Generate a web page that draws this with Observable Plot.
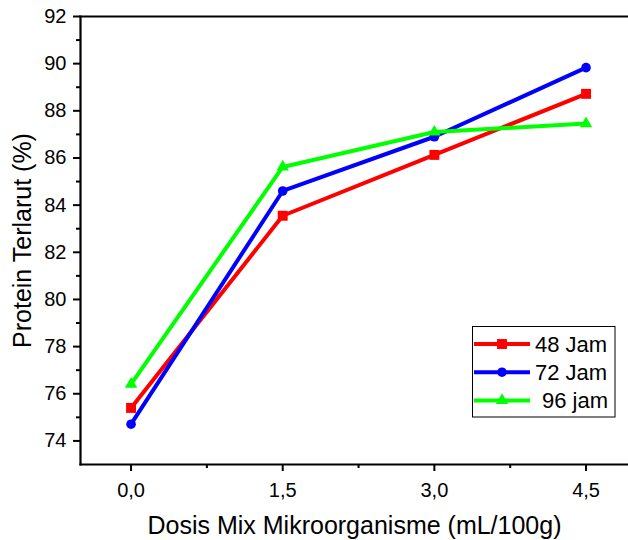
<!DOCTYPE html>
<html>
<head>
<meta charset="utf-8">
<script src="https://cdn.jsdelivr.net/npm/d3@7"></script>
<script src="https://cdn.jsdelivr.net/npm/@observablehq/plot@0.6"></script>
<style>
  html, body { margin: 0; padding: 0; background: #fff; }
  #wrap { position: relative; width: 628px; height: 540px; font-family: "Liberation Sans", Arial, sans-serif; }
  #legend { position: absolute; left: 472px; top: 326px; }
</style>
</head>
<body>
<div id="wrap"></div>
<script>
// ---- data ----
const doses = [0, 1.5, 3.0, 4.5];
const jam48 = [75.40, 83.55, 86.13, 88.72];
const jam72 = [74.71, 84.60, 86.90, 89.83];
const jam96 = [76.41, 85.62, 87.10, 87.46];
const seriesNames = ["48 Jam", "72 Jam", "96 jam"];
const seriesColors = ["#ff0000", "#0000ff", "#00ff00"];
const seriesSymbols = ["square", "circle", "triangle"];
const yMajorTicks = [74, 76, 78, 80, 82, 84, 86, 88, 90, 92];
const yMinorTicks = [75, 77, 79, 81, 83, 85, 87, 89, 91];
const xMajorTicks = [0, 1.5, 3.0, 4.5];
const xMinorTicks = [0.75, 2.25, 3.75];
const xTitle = "Dosis Mix Mikroorganisme (mL/100g)";
const yTitle = "Protein Terlarut (%)";

const seriesValues = [jam48, jam72, jam96];
const rows = [];
seriesValues.forEach((vals, i) => {
  vals.forEach((v, j) => rows.push({series: seriesNames[i], dose: doses[j], value: v}));
});

const symbolR = {square: 5.6, circle: 4.8, triangle: 4.6};

const plot = Plot.plot({
  width: 628,
  height: 540,
  marginLeft: 80,
  marginRight: 0,
  marginTop: 16,
  marginBottom: 76,
  style: {fontFamily: '"Liberation Sans", Arial, sans-serif', background: "white", color: "black", overflow: "visible"},
  x: {domain: [-0.5, 4.92]},
  y: {domain: [73, 92]},
  color: {domain: seriesNames, range: seriesColors},
  symbol: {domain: seriesNames, range: seriesSymbols},
  marks: [
    Plot.axisY({ticks: yMajorTicks, tickSize: 7, tickPadding: 7, strokeWidth: 2, fontSize: 20, tickFormat: d => String(d), label: null}),
    Plot.axisY({ticks: yMinorTicks, tickSize: 4, strokeWidth: 2, tickFormat: () => "", label: null}),
    Plot.axisX({ticks: xMajorTicks, tickSize: 7, tickPadding: 11, strokeWidth: 2, fontSize: 20, tickFormat: d => d.toFixed(1).replace(".", ","), label: null}),
    Plot.axisX({ticks: xMinorTicks, tickSize: 4, strokeWidth: 2, tickFormat: () => "", label: null}),
    Plot.frame({anchor: "left", strokeWidth: 2.2}),
    Plot.frame({anchor: "top", strokeWidth: 2.2}),
    Plot.frame({anchor: "bottom", strokeWidth: 2.2}),
    Plot.line(rows, {x: "dose", y: "value", z: "series", stroke: "series", strokeWidth: 4, strokeLinejoin: "miter"}),
    ...seriesNames.map((name, i) =>
      Plot.dot(rows.filter(d => d.series === name), {x: "dose", y: "value", symbol: "series", fill: "series", stroke: "none", r: symbolR[seriesSymbols[i]]})
    ),
    Plot.text([yTitle], {frameAnchor: "left", rotate: -90, dx: -58, fontSize: 25, lineAnchor: "middle", textAnchor: "middle", fill: "black"}),
    Plot.text([xTitle], {frameAnchor: "bottom", dy: 61, fontSize: 25, lineAnchor: "middle", textAnchor: "middle", fill: "black"})
  ]
});

const wrap = document.getElementById("wrap");
wrap.appendChild(plot);

// ---- legend ----
const lw = 144, lh = 92;
const legend = d3.create("svg").attr("id", "legend").attr("width", lw).attr("height", lh)
  .style("font-family", '"Liberation Sans", Arial, sans-serif');
legend.append("rect").attr("x", 0.5).attr("y", 0.5).attr("width", lw - 1.5).attr("height", lh - 1.5)
  .attr("fill", "white").attr("stroke", "black").attr("stroke-width", 1);
const symbolTypes = {square: d3.symbolSquare, circle: d3.symbolCircle, triangle: d3.symbolTriangle};
seriesNames.forEach((name, i) => {
  const cy = 18 + i * 28.2;
  const g = legend.append("g");
  g.append("line").attr("x1", 2).attr("x2", 58).attr("y1", cy).attr("y2", cy)
    .attr("stroke", seriesColors[i]).attr("stroke-width", 4);
  const r = symbolR[seriesSymbols[i]];
  g.append("path").attr("d", d3.symbol(symbolTypes[seriesSymbols[i]], Math.PI * r * r)())
    .attr("transform", `translate(30,${cy})`).attr("fill", seriesColors[i]);
  g.append("text").attr("x", i === 2 ? 70 : 63).attr("y", cy).attr("dy", "0.36em")
    .attr("font-size", 22).attr("fill", "black").text(name);
});
wrap.appendChild(legend.node());
</script>
</body>
</html>
